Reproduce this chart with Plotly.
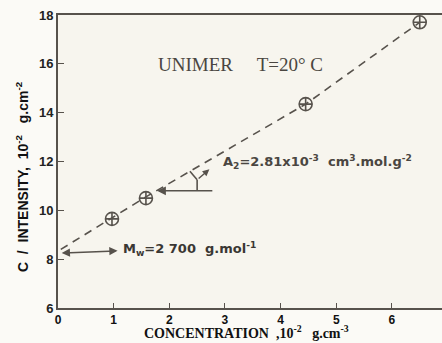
import plotly.graph_objects as go

# Measured points: concentration vs C/intensity
conc = [0.97, 1.58, 4.45, 6.5]
c_over_i = [9.65, 10.5, 14.35, 17.7]

# Hand-drawn extrapolation line (read along the dashes)
line_x = [0.05, 1.58, 4.45, 6.5]
line_y = [8.4, 10.55, 14.35, 17.7]

x_ticks = [0, 1, 2, 3, 4, 5, 6]
x_tick_text = ["<b>%d</b>" % v for v in x_ticks]
y_ticks = [6, 8, 10, 12, 14, 16, 18]
y_tick_text = ["<b>%d</b>" % v for v in y_ticks]

ink = "#57524c"
bg = "#f7f5ee"

fig = go.Figure()

fig.add_trace(go.Scatter(
    x=line_x, y=line_y, mode="lines",
    line=dict(color=ink, width=1.6, dash="8px,6px"),
    hoverinfo="skip", showlegend=False,
))

fig.add_trace(go.Scatter(
    x=conc, y=c_over_i, mode="markers",
    marker=dict(symbol="circle-cross-open", size=13, color=ink,
                line=dict(color=ink, width=1.6)),
    showlegend=False,
))

# Text labels
fig.add_annotation(x=0.475, y=0.875, xref="paper", yref="paper",
                   text="UNIMER&nbsp;&nbsp;&nbsp;&nbsp;&nbsp;T=20° C", showarrow=False,
                   font=dict(family="Liberation Serif", size=19, color="#4a4641"))
fig.add_annotation(x=2.93, y=12.0, xanchor="left", yanchor="middle",
                   text="<b>A<sub>2</sub>=2.81x10<sup>-3</sup>&nbsp;&nbsp;cm<sup>3</sup>.mol.g<sup>-2</sup></b>",
                   showarrow=False,
                   font=dict(family="DejaVu Sans", size=13, color="#4a4641"))
fig.add_annotation(x=1.14, y=8.4, xanchor="left", yanchor="middle",
                   text="<b>M<sub>w</sub>=2&nbsp;700&nbsp;&nbsp;g.mol<sup>-1</sup></b>", showarrow=False,
                   font=dict(family="DejaVu Sans", size=13, color="#3a3733"))

# Arrow pointing to the intercept
fig.add_annotation(x=1.07, y=8.34, ax=0.04, ay=8.25, axref="x", ayref="y",
                   xref="x", yref="y", text="", showarrow=True,
                   arrowhead=2, arrowside="end+start", arrowsize=1.1,
                   arrowwidth=1.5, arrowcolor=ink)

# Slope marker for A2
fig.add_annotation(x=1.78, y=10.8, ax=2.8, ay=10.8, axref="x", ayref="y",
                   xref="x", yref="y", text="", showarrow=True,
                   arrowhead=2, arrowsize=1.1, arrowwidth=1.6, arrowcolor=ink)
fig.add_shape(type="line", x0=2.5, y0=10.8, x1=2.5, y1=11.25,
              line=dict(color=ink, width=1.6))
fig.add_shape(type="line", x0=2.5, y0=11.25, x1=2.37, y1=11.6,
              line=dict(color=ink, width=1.6))
fig.add_annotation(x=2.72, y=11.68, ax=2.5, ay=11.25, axref="x", ayref="y",
                   xref="x", yref="y", text="", showarrow=True,
                   arrowhead=2, arrowsize=0.9, arrowwidth=1.5, arrowcolor=ink)

# Axis titles
fig.add_annotation(x=-0.094, y=0.45, xref="paper", yref="paper",
                   xanchor="center", yanchor="middle",
                   text="<b>C&nbsp;&nbsp;/&nbsp;&nbsp;INTENSITY,&nbsp;&nbsp;10<sup>-2</sup>&nbsp;&nbsp;&nbsp;g.cm<sup>-2</sup></b>",
                   textangle=-90, showarrow=False,
                   font=dict(family="Liberation Sans", size=14, color="#111"))
fig.add_annotation(x=0.49, y=-0.118, xref="paper", yref="paper", yanchor="bottom",
                   text="<b>CONCENTRATION&nbsp;&nbsp;,10<sup>-2</sup>&nbsp;&nbsp;&nbsp;g.cm<sup>-3</sup></b>",
                   showarrow=False,
                   font=dict(family="Liberation Serif", size=14, color="#111"))

fig.update_xaxes(range=[0, 6.9], tickvals=x_ticks, ticktext=x_tick_text,
                 ticks="inside", ticklen=5, tickwidth=1.3, tickcolor=ink,
                 showline=True, linecolor=ink, linewidth=2, mirror=True,
                 showgrid=False, zeroline=False,
                 tickfont=dict(family="Liberation Sans", size=12, color="#111"))
fig.update_yaxes(range=[6, 18], tickvals=y_ticks, ticktext=y_tick_text,
                 ticks="inside", ticklen=6, tickwidth=1.3, tickcolor=ink,
                 showline=True, linecolor=ink, linewidth=2,
                 showgrid=False, zeroline=False,
                 tickfont=dict(family="Liberation Sans", size=13, color="#222"))

fig.update_layout(
    width=442, height=343,
    margin=dict(l=58, r=0, t=15, b=35),
    paper_bgcolor="#fbfaf6", plot_bgcolor=bg,
    font=dict(family="Liberation Sans"),
)

fig.write_html("out.html")
